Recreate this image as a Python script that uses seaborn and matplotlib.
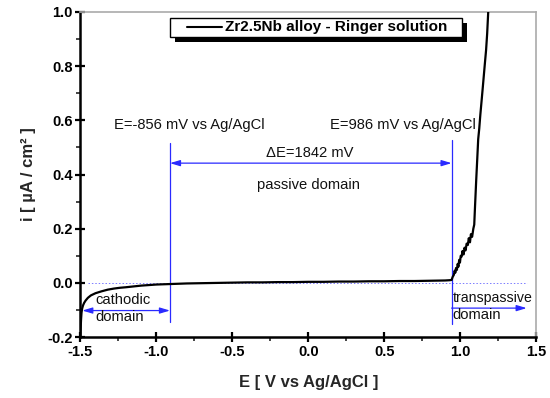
import numpy as np
import pandas as pd
import matplotlib
matplotlib.use("Agg")
import matplotlib.pyplot as plt
import seaborn as sns
from matplotlib.ticker import MultipleLocator
from matplotlib.patches import Rectangle

# ---- data ----
E_V = [-1.500, -1.498, -1.495, -1.492, -1.488, -1.482, -1.475, -1.465, -1.45, -1.43,
       -1.40, -1.36, -1.32, -1.28, -1.24, -1.20, -1.15, -1.10, -1.05, -1.00,
       -0.95, -0.90, -0.80, -0.70, -0.60, -0.50, -0.40, -0.30, -0.20, -0.10,
       0.00, 0.10, 0.20, 0.30, 0.40, 0.50, 0.60, 0.70, 0.80, 0.90,
       0.930, 0.943, 0.950, 0.958, 0.963, 0.968, 0.972, 0.978, 0.983, 0.988,
       0.993, 0.998, 1.003, 1.009, 1.015, 1.022, 1.028, 1.035, 1.042, 1.050,
       1.056, 1.064, 1.070, 1.078, 1.086, 1.092, 1.097, 1.105, 1.112, 1.118,
       1.125, 1.132, 1.141, 1.148, 1.155, 1.162, 1.170, 1.177, 1.184, 1.190]
i_uA = [-0.200, -0.170, -0.135, -0.110, -0.095, -0.083, -0.074, -0.065, -0.055, -0.046,
        -0.038, -0.031, -0.025, -0.021, -0.018, -0.016, -0.013, -0.010, -0.008, -0.006,
        -0.005, -0.004, -0.002, -0.001, 0.000, 0.001, 0.002, 0.002, 0.003, 0.003,
        0.004, 0.004, 0.005, 0.005, 0.006, 0.006, 0.007, 0.007, 0.008, 0.009,
        0.010, 0.011, 0.022, 0.030, 0.045, 0.038, 0.055, 0.048, 0.070, 0.060,
        0.085, 0.075, 0.100, 0.097, 0.118, 0.105, 0.130, 0.120, 0.145, 0.140,
        0.165, 0.150, 0.180, 0.170, 0.200, 0.215, 0.280, 0.380, 0.460, 0.530,
        0.570, 0.620, 0.676, 0.720, 0.765, 0.810, 0.860, 0.920, 1.000, 1.050]

x_ticks = [-1.5, -1.0, -0.5, 0.0, 0.5, 1.0, 1.5]
y_ticks = [-0.2, 0.0, 0.2, 0.4, 0.6, 0.8, 1.0]

E_cathodic_end = -0.91
E_transp_start = 0.943
legend_label = "Zr2.5Nb alloy - Ringer solution"

df = pd.DataFrame({"E": E_V, "i": i_uA})

sns.set_theme(style="white")
plt.rcParams["font.family"] = ["Liberation Sans", "DejaVu Sans"]

fig = plt.figure(figsize=(5.5, 3.98), dpi=100)
ax = fig.add_axes([0.146, 0.153, 0.829, 0.817])

blue = "#2a2aff"

# zero line
ax.plot([-1.45, 1.44], [0, 0], ls=(0, (1.5, 2)), color="#7a7aff", lw=0.7, zorder=1)

sns.lineplot(data=df, x="E", y="i", sort=False, estimator=None,
             color="black", lw=1.6, ax=ax, zorder=3)

# vertical domain borders
ax.plot([E_cathodic_end, E_cathodic_end], [-0.144, 0.515], color=blue, lw=0.9)
ax.plot([E_transp_start, E_transp_start], [-0.151, 0.526], color=blue, lw=0.9)

arrow_kw = dict(arrowstyle="<|-|>,head_length=0.5,head_width=0.15", color=blue,
                lw=0.9, shrinkA=0, shrinkB=0)
ax.annotate("", xy=(E_transp_start, 0.442), xytext=(E_cathodic_end, 0.442),
            arrowprops=arrow_kw)
ax.annotate("", xy=(E_cathodic_end, -0.102), xytext=(-1.487, -0.102),
            arrowprops=arrow_kw)
ax.annotate("", xy=(1.437, -0.093), xytext=(E_transp_start, -0.093),
            arrowprops=dict(arrowstyle="-|>,head_length=0.5,head_width=0.15",
                            color=blue, lw=0.9, shrinkA=0, shrinkB=0))

tk = dict(fontsize=10.6, color="#111111")
ax.text(-0.78, 0.582, "E=-856 mV vs Ag/AgCl", ha="center", va="center", **tk)
ax.text(0.62, 0.582, "E=986 mV vs Ag/AgCl", ha="center", va="center", **tk)
ax.text(0.01, 0.48, "ΔE=1842 mV", ha="center", va="center", **tk)
ax.text(0.0, 0.362, "passive domain", ha="center", va="center", **tk)
ax.text(-1.40, -0.062, "cathodic", ha="left", va="center", **tk)
ax.text(-1.40, -0.126, "domain", ha="left", va="center", **tk)
ax.text(0.948, -0.055, "transpassive", ha="left", va="center",
        fontsize=10.2, color="#111111")
ax.text(0.948, -0.12, "domain", ha="left", va="center", **tk)

# legend box with solid shadow (drawn as in the original)
bx0, bx1, by0, by1 = -0.91, 1.011, 0.908, 0.979
ax.add_patch(Rectangle((bx0 + 0.035, by0 - 0.02), bx1 - bx0, by1 - by0,
                       facecolor="black", edgecolor="none", zorder=5))
ax.add_patch(Rectangle((bx0, by0), bx1 - bx0, by1 - by0,
                       facecolor="white", edgecolor="black", lw=1.0, zorder=6))
ax.plot([-0.80, -0.565], [0.944, 0.944], color="black", lw=1.5, zorder=7)
ax.text(-0.545, 0.944, legend_label, ha="left", va="center",
        fontsize=11, fontweight="bold", color="black", zorder=7)

ax.set_xlim(-1.5, 1.5)
ax.set_ylim(-0.2, 1.0)
ax.set_xticks(x_ticks)
ax.set_yticks(y_ticks)
ax.set_xticklabels([f"{v:.1f}" for v in x_ticks])
ax.set_yticklabels([f"{v:.1f}" for v in y_ticks])
ax.xaxis.set_minor_locator(MultipleLocator(0.25))
ax.yaxis.set_minor_locator(MultipleLocator(0.1))
ax.tick_params(which="major", direction="inout", length=7, width=1.6,
               labelsize=10.5, colors="black", bottom=True, left=True, pad=2)
ax.tick_params(which="minor", direction="out", length=3, width=1.2,
               bottom=True, left=True)
for lab in ax.get_xticklabels() + ax.get_yticklabels():
    lab.set_fontweight("bold")

for s in ["left", "bottom"]:
    ax.spines[s].set_color("black")
    ax.spines[s].set_linewidth(1.8)
for s in ["top", "right"]:
    ax.spines[s].set_color("#aaaaaa")
    ax.spines[s].set_linewidth(1.2)

ax.set_xlabel("E [ V vs Ag/AgCl ]", fontsize=12, fontweight="bold", labelpad=12)
ax.set_ylabel("i [ µA / cm² ]", fontsize=12, fontweight="bold", labelpad=8)

fig.savefig("out.png", dpi=100)
